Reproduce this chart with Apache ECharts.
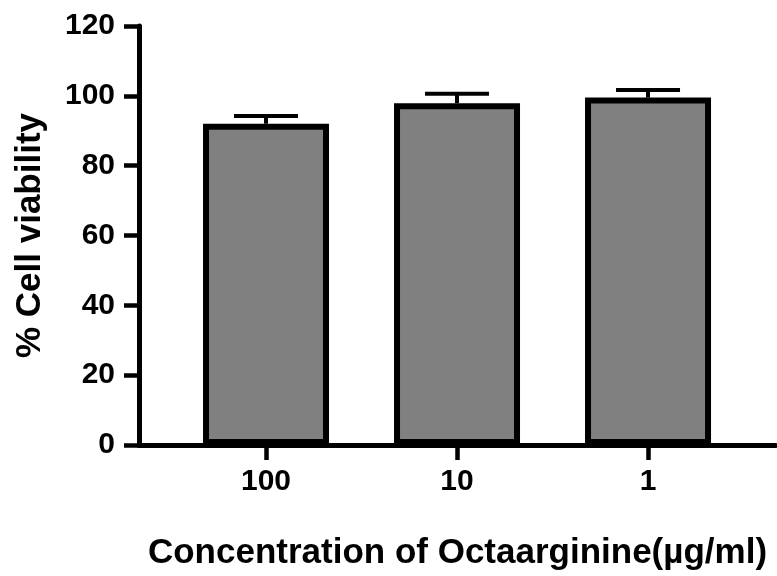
<!DOCTYPE html>
<html>
<head>
<meta charset="utf-8">
<script src="https://cdn.jsdelivr.net/npm/echarts@6/dist/echarts.min.js"></script>
<style>
html,body{margin:0;padding:0;background:#fff;}
#chart{width:777px;height:576px;}
</style>
</head>
<body>
<div id="chart"></div>
<script>
const categories = ['100', '10', '1'];
const meanValues = [92.0, 97.9, 99.5];
const errorValues = [2.2, 2.7, 2.2];
const yTicks = [0, 20, 40, 60, 80, 100, 120];

const FONT = '"Liberation Sans", Arial, Helvetica, sans-serif';
const positions = categories.map((c, i) => i);
const barData = positions.map((p, i) => [p, meanValues[i]]);
const errData = positions.map((p, i) => [p, meanValues[i], meanValues[i] + errorValues[i]]);

const chart = echarts.init(document.getElementById('chart'), null, {renderer: 'canvas'});
chart.setOption({
  backgroundColor: '#fff',
  animation: false,
  grid: {left: 139, right: 1, top: 26, bottom: 127, containLabel: false},
  xAxis: {
    type: 'value',
    min: -0.665,
    max: 2.67,
    splitLine: {show: false},
    axisLine: {show: true, onZero: false, lineStyle: {color: '#000', width: 5}},
    axisTick: {show: true, customValues: positions, length: 15, lineStyle: {color: '#000', width: 4.5}},
    axisLabel: {
      customValues: positions,
      formatter: v => categories[Math.round(v)] || '',
      color: '#000', fontFamily: FONT, fontWeight: 'bold', fontSize: 30, margin: 22
    },
    name: 'Concentration of Octaarginine(\u00b5g/ml)',
    nameLocation: 'middle',
    nameGap: 91,
    nameTextStyle: {color: '#000', fontFamily: FONT, fontWeight: 'bold', fontSize: 35}
  },
  yAxis: {
    type: 'value',
    min: yTicks[0],
    max: yTicks[yTicks.length - 1],
    interval: 20,
    splitLine: {show: false},
    axisLine: {show: true, onZero: false, lineStyle: {color: '#000', width: 5}},
    axisTick: {show: true, length: 15, lineStyle: {color: '#000', width: 4.5}},
    axisLabel: {color: '#000', fontFamily: FONT, fontWeight: 'bold', fontSize: 30, margin: 24},
    name: '% Cell viability',
    nameLocation: 'middle',
    nameRotate: 90,
    nameGap: 91,
    nameTextStyle: {color: '#000', fontFamily: FONT, fontWeight: 'bold', fontSize: 35}
  },
  series: [
    {
      type: 'bar',
      data: barData,
      barWidth: 126,
      itemStyle: {color: '#808080', borderColor: '#000', borderWidth: 6},
      z: 2
    },
    {
      type: 'custom',
      data: errData,
      z: 3,
      renderItem: function (params, api) {
        const x = api.value(0);
        const lo = api.coord([x, api.value(1)]);
        const hi = api.coord([x, api.value(2)]);
        const half = 32;
        const style = {stroke: '#000', lineWidth: 4};
        return {
          type: 'group',
          children: [
            {type: 'line', shape: {x1: lo[0], y1: lo[1], x2: hi[0], y2: hi[1]}, style: style},
            {type: 'line', shape: {x1: hi[0] - half, y1: hi[1], x2: hi[0] + half, y2: hi[1]}, style: style}
          ]
        };
      }
    }
  ]
});
</script>
</body>
</html>
